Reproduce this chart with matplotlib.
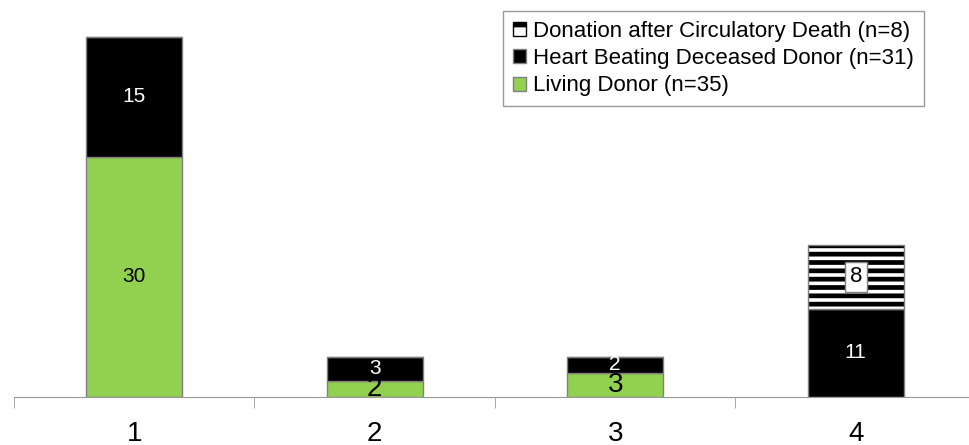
import matplotlib.pyplot as plt
from matplotlib.patches import Patch
import numpy as np

plt.rcParams['font.family'] = ['Liberation Sans', 'DejaVu Sans']
plt.rcParams['hatch.linewidth'] = 3.4

categories = ['1', '2', '3', '4']
living = [30, 2, 3, 0]
heart_beating = [15, 3, 2, 11]
dcd = [0, 0, 0, 8]

green = '#92D050'
edge = '#808080'

fig = plt.figure(figsize=(9.7, 4.45), dpi=100)
ax = fig.add_axes([14 / 970, 48 / 445, 962 / 970, 384 / 445])

x = np.arange(1, len(categories) + 1)
w = 0.4
ax.bar(x, living, w, color=green, edgecolor=edge, linewidth=1)
bottom2 = np.array(living)
ax.bar(x, heart_beating, w, bottom=bottom2, color='black', edgecolor=edge, linewidth=1)
bottom3 = bottom2 + np.array(heart_beating)
# striped segment: hatch in black, then gray outline on top
ax.bar(x, dcd, w, bottom=bottom3, color='white', edgecolor='black', linewidth=0, hatch='--')
ax.bar(x, dcd, w, bottom=bottom3, fill=False, edgecolor=edge, linewidth=1)

# value labels
for i in range(len(x)):
    if living[i] > 0:
        big = living[i] < 5
        ax.text(x[i], living[i] / 2, str(living[i]), ha='center', va='center',
                fontsize=20 if big else 15, color='black')
    if heart_beating[i] > 0:
        ax.text(x[i], bottom2[i] + heart_beating[i] / 2, str(heart_beating[i]),
                ha='center', va='center', fontsize=15, color='white')
    if dcd[i] > 0:
        ax.text(x[i], bottom3[i] + dcd[i] / 2, str(dcd[i]), ha='center', va='center',
                fontsize=16, color='black',
                bbox=dict(boxstyle='square,pad=0.22', fc='white', ec=edge, lw=1))

ax.set_xlim(0.5, 4.5)
ax.set_ylim(0, 48)
ax.set_xticks(x)
ax.set_xticklabels(categories, fontsize=20)
ax.set_xticks(np.arange(0.5, 4.6, 1), minor=True)
ax.tick_params(axis='x', which='major', length=0, pad=17)
ax.tick_params(axis='x', which='minor', length=8, color='#999999')
ax.set_yticks([])
for s in ['top', 'right', 'left']:
    ax.spines[s].set_visible(False)
ax.spines['bottom'].set_color('#999999')

handles = [
    Patch(facecolor='white', edgecolor='black', hatch='-', label='Donation after Circulatory Death (n=8)'),
    Patch(facecolor='black', edgecolor=edge, label='Heart Beating Deceased Donor (n=31)'),
    Patch(facecolor=green, edgecolor=edge, label='Living Donor (n=35)'),
]
leg = ax.legend(handles=handles, loc='upper left', bbox_to_anchor=(503 / 970, 1 - 11 / 445),
                bbox_transform=fig.transFigure, fontsize=16, frameon=True, fancybox=False,
                handlelength=0.6, handleheight=0.6, handletextpad=0.3, borderpad=0.45,
                labelspacing=0.28, borderaxespad=0)
leg.get_frame().set_edgecolor('#808080')
leg.get_frame().set_linewidth(1)

fig.savefig('out.png', dpi=100)
